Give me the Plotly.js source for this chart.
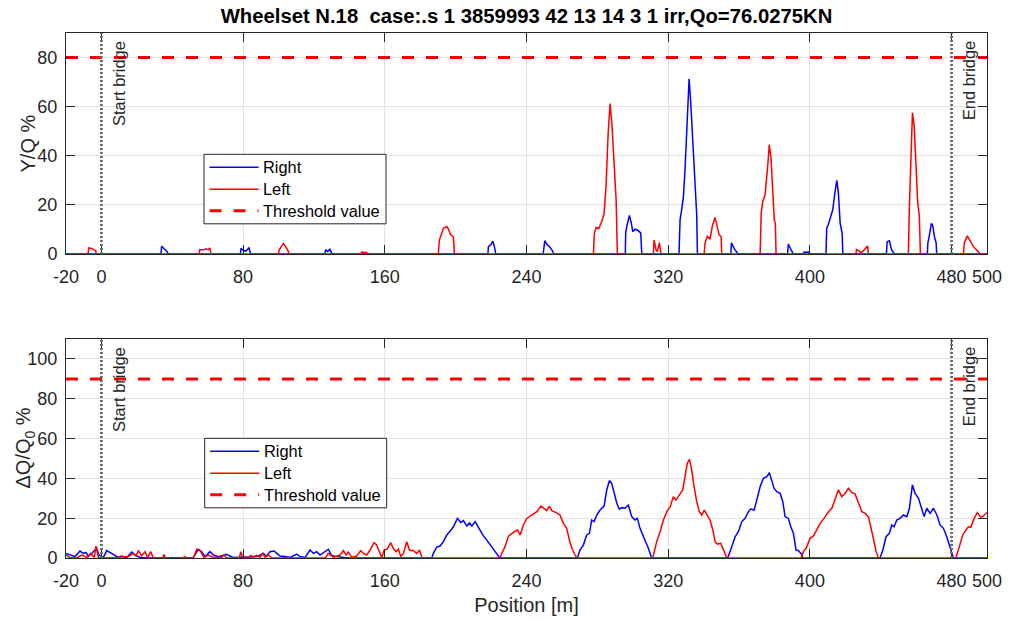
<!DOCTYPE html>
<html>
<head>
<meta charset="utf-8">
<script src="https://cdn.plot.ly/plotly-3.0.1.min.js"></script>
<style>
  html, body { margin: 0; padding: 0; background: #fff; }
  #chart { width: 1012px; height: 621px; }
</style>
</head>
<body>
<div id="chart"></div>
<script>
// ---- Wheelset N.18 : Y/Q and ΔQ/Q0 along the track ----
const chartTitle = 'Wheelset N.18\u00a0 case:.s 1 3859993 42 13 14 3 1 irr,Qo=76.0275KN';
const positionRange = [-20, 500];
const positionTicks = [-20, 0, 80, 160, 240, 320, 400, 480, 500];
const bridgeStart = 0;
const bridgeEnd = 480;
const thresholdYQ = 80;     // Y/Q limit [%]
const thresholdDQ = 90;     // ΔQ/Q0 limit [%]
const yqTicks = [0, 20, 40, 60, 80];
const dqTicks = [0, 20, 40, 60, 80, 100];

// Y/Q % — right wheel
const yqRightX = [-20, 33.6, 34.0, 35.0, 36.0, 37.0, 37.8,
  78.5, 78.8, 80.0, 81.5, 83.3, 84.3,
  126.2, 126.6, 127.7, 129.0, 130.3,
  218.2, 218.5, 220.0, 221.0, 222.2, 222.6,
  249.4, 249.8, 250.3, 251.5, 253.0, 254.5, 255.5,
  295.8, 296.0, 296.6, 298.1, 299.2, 300.0, 301.3, 303.2, 304.5, 305.1,
  326.1, 326.7, 327.6, 328.6, 329.5, 330.5, 331.8, 332.7, 334.2, 335.6, 336.1, 336.5,
  355.4, 355.7, 357.5, 359.0, 359.6,
  387.4, 387.8, 389.5, 390.7,
  396.3, 396.6, 399.4, 399.7,
  409.1, 409.5, 410.4, 411.8, 412.9, 414.1, 415.2, 416.1, 417.1, 418.2, 418.6,
  443.2, 443.6, 444.9, 446.2, 447.5, 448.1,
  466.3, 466.6, 467.5, 468.6, 469.4, 470.3, 471.3, 471.6,
  500];
const yqRightY = [0, 0, 3.2, 2.5, 1.5, 1.0, 0,
  0, 2.3, 1.5, 1.2, 2.5, 0,
  0, 1.8, 1.0, 1.9, 0,
  0, 3.0, 4.0, 5.2, 2.0, 0,
  0, 3.5, 5.4, 4.0, 3.0, 1.5, 0,
  0, 8.5, 11.2, 15.7, 12.5, 9.1, 10.1, 9.5, 8.5, 0,
  0, 13.9, 18.0, 23.4, 34.3, 52.0, 71.3, 62.0, 40.0, 22.0, 16.0, 0,
  0, 4.6, 1.9, 0.5, 0,
  0, 4.1, 1.6, 0,
  0, 0.7, 0.8, 0,
  0, 10.5, 11.9, 15.0, 18.0, 24.8, 30.0, 24.8, 12.5, 8.5, 0,
  0, 5.0, 5.4, 1.6, 0.3, 0,
  0, 4.4, 7.8, 12.5, 11.5, 7.1, 4.4, 0,
  0];

// Y/Q % — left wheel
const yqLeftX = [-20, -7.5, -7.2, -5.5, -4.2, -3.2, -2.9,
  55.2, 55.5, 57.5, 59.0, 60.3, 61.2, 61.9,
  100.0, 100.3, 101.5, 102.7, 104.0, 105.4, 105.9,
  146.6, 146.9, 149.5, 150.7,
  190.2, 190.8, 193.1, 195.0, 195.9, 197.2, 198.7, 199.3,
  277.8, 278.3, 279.3, 280.8, 282.5, 283.8, 284.9, 286.1, 287.2, 288.3, 289.5, 290.6, 291.3,
  311.6, 312.0, 313.2, 313.9, 315.0, 316.0,
  340.3, 340.8, 342.1, 343.6, 344.9, 346.4, 347.7, 348.8, 349.9, 350.2,
  371.9, 372.5, 373.4, 374.7, 376.0, 377.1, 378.1, 379.0, 379.9, 380.5, 380.9,
  426.0, 426.3, 427.7, 429.0, 430.9, 432.6, 433.0,
  455.6, 456.2, 457.0, 457.9, 458.9, 459.8, 460.9, 461.8, 462.4,
  486.7, 487.2, 488.9, 490.4, 492.3, 494.2, 495.7, 496.1,
  500];
const yqLeftY = [0, 0, 2.5, 2.3, 1.7, 1.5, 0,
  0, 1.8, 1.6, 2.1, 1.8, 2.5, 0,
  0, 1.5, 3.0, 4.3, 3.0, 1.3, 0,
  0, 0.8, 0.6, 0,
  0, 5.7, 10.5, 11.2, 10.2, 7.8, 7.1, 0,
  0, 8.5, 10.8, 10.4, 13.2, 16.6, 27.5, 49.3, 61.3, 52.0, 38.4, 22.0, 0,
  0, 5.7, 1.6, 1.0, 4.6, 0,
  0, 4.4, 7.4, 6.0, 11.2, 14.9, 11.0, 7.8, 7.0, 0,
  0, 16.6, 21.4, 24.1, 34.3, 44.6, 38.4, 24.8, 13.9, 12.5, 0,
  0, 1.9, 1.3, 0.6, 1.9, 3.3, 0,
  0, 19.3, 41.2, 57.5, 52.0, 35.7, 20.7, 15.3, 0,
  0, 4.6, 7.4, 5.4, 3.0, 1.6, 0.3, 0,
  0];

// ΔQ/Q0 % — right wheel
const dqRightX = [-20, -17.8, -14.9, -12.1, -10.2, -8.7, -7.4, -5.5, -3.6, -2.7, -1.4, 1.1, 3.0, 4.9, 6.7,
  9.6, 11.4, 14.3, 17.1, 19.0, 21.8, 27.4, 51.9, 54.7, 56.6, 58.5, 61.3, 63.2, 66.0, 70.7, 74.5,
  78.2, 83.0, 87.7, 91.4, 93.3, 95.2, 97.5, 99.0, 100.9, 103.7, 106.5, 110.3, 112.1, 115.0,
  117.8, 119.7, 121.5, 123.4, 125.3, 128.1, 130.0, 132.8, 136.6, 140.4,
  186.5, 187.4, 189.3, 191.2, 193.1, 195.0, 197.4, 198.7, 201.0, 202.9, 204.4, 206.3, 207.8,
  209.1, 211.0, 212.8, 215.3, 217.6, 219.8, 222.3, 224.7, 225.1,
  268.7, 270.2, 272.1, 274.0, 275.5, 276.8, 278.1, 279.7, 281.5, 283.8, 285.3, 286.8, 288.1,
  289.4, 291.0, 292.4, 293.8, 295.6, 297.5, 299.4, 301.3, 302.6, 304.1, 306.4, 308.8, 310.7,
  353.6, 355.9, 357.8, 359.6, 361.6, 363.4, 365.3, 366.6, 368.5, 370.0, 371.9, 373.7, 375.7,
  377.1, 378.5, 379.8, 381.3, 383.2, 384.7, 386.0, 387.9, 389.2, 390.7, 392.2, 393.5, 395.0, 396.0,
  439.6, 441.2, 443.0, 444.9, 446.2, 447.5, 449.1, 450.9, 452.8, 454.7, 456.2, 457.9, 459.4,
  461.3, 463.2, 464.5, 466.0, 467.9, 469.7, 471.7, 473.5, 475.4, 477.3, 479.2, 481.0, 500];
const dqRightY = [2.3, 1.5, 0.7, 3.5, 2.3, 2.8, 0.7, 2.3, 4.0, 4.9, 1.5, 0.3, 3.7, 2.7, 1.5,
  0.3, 1.0, 0.2, 3.0, 1.5, 0.3, 0, 0.3, 4.4, 3.2, 0.7, 3.2, 1.5, 0.7, 1.8, 0.2,
  0.3, 0.2, 0.7, 2.3, 1.0, 3.2, 3.5, 2.3, 1.0, 0.7, 0.3, 2.0, 0.7, 0.3,
  4.0, 2.3, 3.2, 1.5, 2.7, 4.4, 1.3, 0.7, 0.3, 0,
  0, 2.3, 5.5, 6.0, 8.2, 11.6, 14.1, 15.7, 19.9, 17.8, 18.8, 16.1, 17.6,
  16.1, 18.3, 15.7, 11.6, 9.0, 6.0, 3.2, 0.3, 0,
  0, 4.0, 6.5, 11.6, 12.4, 19.1, 18.3, 21.6, 24.1, 26.1, 34.2, 38.9, 37.5,
  32.5, 27.5, 24.5, 25.3, 25.0, 26.6, 20.8, 19.1, 19.9, 14.9, 9.9, 4.9, 0,
  0, 5.7, 10.7, 13.2, 18.3, 19.9, 23.3, 24.6, 24.1, 29.1, 35.8, 40.0, 40.9,
  42.9, 39.2, 35.0, 33.3, 32.5, 28.3, 20.8, 19.9, 15.7, 12.4, 4.0, 3.7, 2.3, 0,
  0, 4.0, 10.7, 12.4, 16.6, 15.7, 19.1, 19.9, 21.6, 20.8, 25.0, 36.7, 32.5,
  30.0, 25.0, 20.8, 25.0, 22.4, 25.0, 21.6, 16.6, 14.9, 10.7, 4.9, 0, 0];

// ΔQ/Q0 % — left wheel
const dqLeftX = [-20, -17.8, -14.0, -11.1, -8.3, -6.1, -4.0, -3.1, -1.7, 2.6, 8.6, 15.2, 18.0, 19.5,
  20.9, 22.7, 24.6, 26.1, 27.8, 29.3, 34.6, 35.3, 36.1, 46.3, 46.8, 48.1, 51.9, 53.8, 55.7, 57.9,
  60.4, 62.3, 64.5, 67.9, 69.2, 70.7, 77.9, 78.7, 79.8, 83.0, 84.3, 85.8, 87.7, 89.6, 91.1, 92.4,
  94.3, 96.1, 101.8, 104.6, 108.4, 126.5, 128.1, 131.0, 134.7, 136.6, 138.1, 139.4, 141.3, 144.1,
  146.4, 147.9, 149.8, 151.7, 153.9, 155.4, 156.9, 158.3, 159.6, 161.1, 162.0, 163.3, 164.8,
  166.3, 167.7, 169.0, 170.5, 172.4, 173.9, 176.2, 178.0, 179.6, 180.9, 182.8,
  225.1, 226.0, 227.9, 229.8, 231.7, 233.5, 234.8, 236.4, 238.2, 240.2, 243.0, 245.8, 248.2,
  249.9, 251.4, 252.9, 254.3, 256.7, 258.9, 260.8, 262.7, 264.2, 265.6, 267.4, 268.4,
  311.3, 313.5, 315.4, 317.3, 319.2, 321.1, 322.9, 324.4, 326.3, 328.2, 329.5, 330.8, 332.0,
  333.3, 334.6, 336.1, 337.6, 338.9, 340.4, 341.8, 343.6, 345.2, 346.5, 347.8, 349.7, 351.6, 353.1,
  395.0, 396.3, 397.9, 400.1, 402.0, 403.9, 405.8, 408.0, 410.5, 412.4, 414.2, 416.1, 418.0,
  419.9, 421.7, 423.7, 425.5, 427.4, 429.3, 431.2, 433.0, 434.4, 435.8, 437.4, 438.7,
  482.4, 484.4, 486.3, 488.2, 489.5, 490.9, 492.7, 494.6, 496.5, 498.0, 499.9];
const dqLeftY = [1.5, 0.3, 0, 1.5, 0.3, 2.3, 0.3, 6.0, 0.3, 0, 0.3, 0.7, 2.3, 1.0,
  3.7, 1.0, 3.2, 0.3, 3.2, 0, 0, 1.8, 0, 0, 0.7, 0, 0, 4.4, 3.7, 0.3,
  1.5, 0.5, 0.2, 0.2, 1.5, 0, 0, 3.2, 0, 0, 1.3, 0.6, 1.3, 0.3, 2.3, 0.3,
  1.5, 0, 0, 0.3, 0, 0, 2.3, 0.3, 1.5, 3.7, 1.5, 3.0, 0.3, 1.0,
  3.7, 2.3, 1.5, 4.0, 7.7, 6.5, 3.2, 0.3, 4.0, 4.4, 5.4, 7.7, 4.9,
  3.2, 4.4, 0.7, 2.3, 8.2, 4.0, 3.7, 2.3, 4.0, 0.3, 0,
  0, 2.3, 5.7, 11.0, 12.2, 13.2, 14.1, 11.6, 16.6, 19.9, 21.6, 23.3, 26.1,
  25.0, 23.8, 26.1, 23.8, 22.8, 21.6, 17.4, 14.9, 9.0, 4.9, 1.5, 0,
  0, 8.2, 13.2, 19.1, 23.3, 25.8, 30.8, 29.1, 31.7, 34.2, 40.9, 47.6, 49.6,
  44.2, 35.8, 28.3, 23.3, 21.6, 24.1, 21.6, 19.1, 14.1, 8.2, 7.0, 7.4, 3.2, 0,
  0, 3.2, 4.9, 9.9, 11.1, 14.1, 17.4, 19.9, 23.3, 25.0, 30.0, 34.2, 30.8,
  32.5, 35.0, 32.8, 32.2, 27.8, 23.3, 22.4, 20.8, 15.7, 9.0, 3.2, 0,
  0, 5.7, 11.6, 14.1, 15.7, 15.4, 19.9, 22.8, 20.4, 21.1, 22.9];

const FONT = 'Liberation Sans, Arial, Helvetica, sans-serif';
const AXIS_COLOR = '#262626';
const BLUE = '#0000ff';
const RED = '#ff0000';

// figure geometry (px)
const W = 1012, H = 621;
const M = { l: 66, r: 25, t: 33, b: 63 };
const plotW = W - M.l - M.r, plotH = H - M.t - M.b;
const px2paperX = (px) => (px - M.l) / plotW;
const px2paperY = (py) => (H - M.b - py) / plotH;

function wheelTrace(x, y, name, color, xa, ya) {
  return { x, y, name, type: 'scatter', mode: 'lines', xaxis: xa, yaxis: ya,
           showlegend: false, hoverinfo: 'x+y+name', line: { color, width: 1.5 } };
}
function limitTrace(level, xa, ya) {
  return { x: positionRange, y: [level, level], name: 'Threshold value', type: 'scatter',
           mode: 'lines', xaxis: xa, yaxis: ya, showlegend: false,
           line: { color: RED, width: 3, dash: '12px,12px' } };
}

const topTraces = [
  wheelTrace(yqRightX, yqRightY, 'Right', BLUE, 'x', 'y'),
  wheelTrace(yqLeftX, yqLeftY, 'Left', RED, 'x', 'y'),
  limitTrace(thresholdYQ, 'x', 'y')
];
const bottomTraces = [
  wheelTrace(dqRightX, dqRightY, 'Right', BLUE, 'x2', 'y2'),
  wheelTrace(dqLeftX, dqLeftY, 'Left', RED, 'x2', 'y2'),
  limitTrace(thresholdDQ, 'x2', 'y2')
];
const traces = topTraces.concat(bottomTraces);

function xAxis(anchor, withTitle) {
  const ax = {
    anchor, range: positionRange, tickmode: 'array', tickvals: positionTicks,
    ticktext: positionTicks.map(String),
    ticks: 'inside', ticklen: 9, tickwidth: 1, tickcolor: AXIS_COLOR,
    showline: true, linecolor: AXIS_COLOR, linewidth: 1, mirror: 'ticks',
    showgrid: true, gridcolor: '#e3e3e3', gridwidth: 1, zeroline: false,
    tickfont: { family: FONT, size: 18, color: AXIS_COLOR }, ticklabelstandoff: 6
  };
  if (withTitle) {
    ax.title = { text: 'Position [m]', font: { family: FONT, size: 20, color: AXIS_COLOR }, standoff: 8 };
  }
  return ax;
}
function yAxis(anchor, domain, range, ticks) {
  return {
    anchor, domain, range, tickmode: 'array', tickvals: ticks,
    ticks: 'inside', ticklen: 9, tickwidth: 1, tickcolor: AXIS_COLOR,
    showline: true, linecolor: AXIS_COLOR, linewidth: 1, mirror: 'ticks',
    showgrid: true, gridcolor: '#e3e3e3', gridwidth: 1, zeroline: false,
    tickfont: { family: FONT, size: 18, color: AXIS_COLOR }, ticklabelstandoff: 4
  };
}

// y-axis titles, placed beside the tick labels
function yTitle(text, yref, centerPx) {
  return { text, xref: 'paper', x: px2paperX(centerPx), yref, y: 0.5,
           xanchor: 'center', yanchor: 'middle', textangle: -90, showarrow: false,
           font: { family: FONT, size: 20, color: AXIS_COLOR } };
}

// bridge markers
function bridgeLine(xpos, xref, yref) {
  return { type: 'line', xref, yref, x0: xpos, x1: xpos, y0: 0, y1: 1, layer: 'above',
           line: { color: '#6a6a6a', width: 2.8, dash: '2px,2px' } };
}
function bridgeLabel(xpos, text, xref, yref) {
  return { x: xpos, y: 1, xref, yref, text, showarrow: false, textangle: -90,
           xanchor: 'left', yanchor: 'top', xshift: 6, yshift: -6,
           font: { family: FONT, size: 16.4, color: AXIS_COLOR } };
}

// boxed legend: sample line + label for each trace of a panel
function legendBlock(seriesList, leftPx, topPx) {
  const boxW = 182, boxH = 69.5, rowOffsets = [13, 35, 56.5];
  const shapes = [{
    type: 'rect', xref: 'paper', yref: 'paper', layer: 'above',
    x0: px2paperX(leftPx), x1: px2paperX(leftPx + boxW),
    y0: px2paperY(topPx + boxH), y1: px2paperY(topPx),
    fillcolor: '#ffffff', line: { color: AXIS_COLOR, width: 1 }
  }];
  const notes = [];
  seriesList.forEach((tr, i) => {
    const py = topPx + rowOffsets[i];
    shapes.push({ type: 'line', xref: 'paper', yref: 'paper', layer: 'above',
      x0: px2paperX(leftPx + 5.5), x1: px2paperX(leftPx + 54.5),
      y0: px2paperY(py), y1: px2paperY(py),
      line: { color: tr.line.color, width: tr.line.width, dash: tr.line.dash || 'solid' } });
    notes.push({ text: tr.name, xref: 'paper', yref: 'paper',
      x: px2paperX(leftPx + 57), y: px2paperY(py), xanchor: 'left', yanchor: 'middle',
      showarrow: false, font: { family: FONT, size: 16.4, color: '#000000' } });
  });
  return { shapes, notes };
}

const topLegend = legendBlock(topTraces, 204, 154.3);
const bottomLegend = legendBlock(bottomTraces, 204.7, 438.3);

const layout = {
  width: W, height: H,
  margin: M,
  paper_bgcolor: '#ffffff', plot_bgcolor: '#ffffff',
  title: { text: '<b>' + chartTitle + '</b>', x: 0.5, xref: 'paper', xanchor: 'center',
           y: 1 - 16 / H, yref: 'container', yanchor: 'middle',
           font: { family: FONT, size: 20.3, color: '#000000' } },
  showlegend: false,
  xaxis: xAxis('y', false),
  yaxis: yAxis('x', [0.579, 1], [0, 90], yqTicks),
  xaxis2: xAxis('y2', true),
  yaxis2: yAxis('x2', [0, 0.417], [0, 110], dqTicks),
  shapes: [
    bridgeLine(bridgeStart, 'x', 'y domain'), bridgeLine(bridgeEnd, 'x', 'y domain'),
    bridgeLine(bridgeStart, 'x2', 'y2 domain'), bridgeLine(bridgeEnd, 'x2', 'y2 domain')
  ].concat(topLegend.shapes, bottomLegend.shapes),
  annotations: [
    yTitle('Y/Q %', 'y domain', 28),
    yTitle('\u0394Q/Q<sub>0</sub> %', 'y2 domain', 25),
    bridgeLabel(bridgeStart, 'Start bridge', 'x', 'y domain'),
    bridgeLabel(bridgeEnd, 'End bridge', 'x', 'y domain'),
    bridgeLabel(bridgeStart, 'Start bridge', 'x2', 'y2 domain'),
    bridgeLabel(bridgeEnd, 'End bridge', 'x2', 'y2 domain')
  ].concat(topLegend.notes, bottomLegend.notes)
};

Plotly.newPlot('chart', traces, layout, { displayModeBar: false, responsive: false });
</script>
</body>
</html>
